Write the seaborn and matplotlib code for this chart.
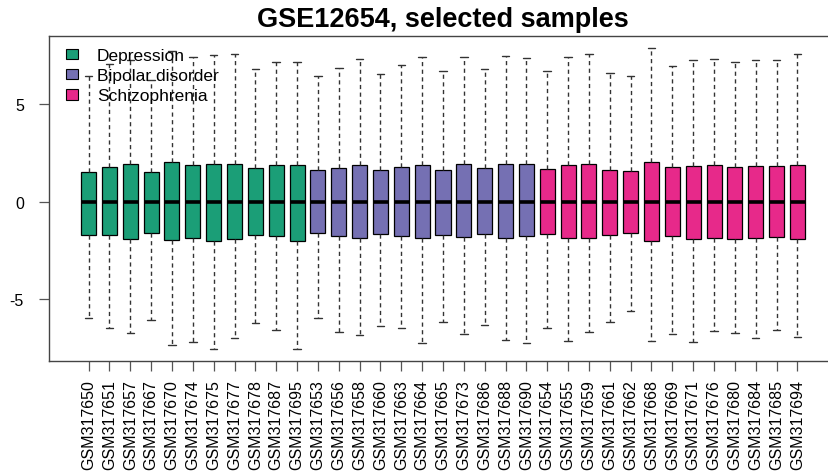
import numpy as np
import pandas as pd
import matplotlib
matplotlib.use("Agg")
import matplotlib.pyplot as plt
from matplotlib.patches import Patch
import seaborn as sns

# sample ids, in the order they are plotted
samples = ["GSM317650", "GSM317651", "GSM317657", "GSM317667", "GSM317670", "GSM317674",
           "GSM317675", "GSM317677", "GSM317678", "GSM317687", "GSM317695",
           "GSM317653", "GSM317656", "GSM317658", "GSM317660", "GSM317663", "GSM317664",
           "GSM317665", "GSM317673", "GSM317686", "GSM317688", "GSM317690",
           "GSM317654", "GSM317655", "GSM317659", "GSM317661", "GSM317662", "GSM317668",
           "GSM317669", "GSM317671", "GSM317676", "GSM317680", "GSM317684", "GSM317685",
           "GSM317694"]
groups = (["Depression"] * 11 + ["Bipolar disorder"] * 11 + ["Schizophrenia"] * 13)
group_names = ["Depression", "Bipolar disorder", "Schizophrenia"]
group_colors = ["#1B9E77", "#7570B3", "#E7298A"]

# five number summary per sample
lower = [-5.96, -6.50, -6.72, -6.07, -7.36, -7.18, -7.56, -6.98, -6.22, -6.60, -7.56,
         -5.95, -6.67, -6.82, -6.39, -6.48, -7.27, -6.19, -6.81, -6.31, -7.08, -7.24,
         -6.46, -7.15, -6.70, -6.15, -5.60, -7.15, -6.79, -7.22, -6.62, -6.72, -7.01, -6.57, -6.93]
q1 = [-1.72, -1.72, -1.91, -1.58, -1.98, -1.86, -2.03, -1.91, -1.72, -1.77, -2.03,
      -1.62, -1.77, -1.84, -1.64, -1.76, -1.86, -1.72, -1.79, -1.67, -1.88, -1.77,
      -1.64, -1.84, -1.86, -1.70, -1.60, -2.00, -1.76, -1.89, -1.86, -1.89, -1.86, -1.79, -1.93]
median = [0.0, 0.0, 0.0, 0.0, 0.0, 0.0, 0.0, 0.0, 0.0, 0.0, 0.0,
          0.0, 0.0, 0.0, 0.0, 0.0, 0.0, 0.0, 0.0, 0.0, 0.0, 0.0,
          0.0, 0.0, 0.0, 0.0, 0.0, 0.0, 0.0, 0.0, 0.0, 0.0, 0.0, 0.0, 0.0]
q3 = [1.55, 1.79, 1.94, 1.55, 2.04, 1.91, 1.92, 1.92, 1.72, 1.87, 1.89,
      1.65, 1.72, 1.87, 1.65, 1.79, 1.89, 1.65, 1.92, 1.72, 1.92, 1.92,
      1.70, 1.87, 1.92, 1.63, 1.60, 2.06, 1.79, 1.85, 1.87, 1.79, 1.85, 1.85, 1.91]
upper = [6.44, 7.09, 7.27, 6.27, 7.75, 7.43, 7.56, 7.61, 6.84, 7.18, 7.16,
         6.48, 6.90, 7.33, 6.56, 7.04, 7.43, 6.70, 7.46, 6.82, 7.51, 7.39,
         6.73, 7.42, 7.59, 6.63, 6.44, 7.90, 6.96, 7.30, 7.35, 7.18, 7.30, 7.30, 7.59]

# five points per sample -> quartiles land exactly on q1/median/q3
df = pd.DataFrame({"sample": samples, "group": groups, "lower": lower, "q1": q1,
                   "median": median, "q3": q3, "upper": upper})
df_long = df.melt(id_vars=["sample", "group"], value_name="value")

sns.set_style("ticks")
plt.rcParams["font.family"] = ["Liberation Sans", "DejaVu Sans"]
plt.rcParams["text.color"] = "black"
plt.rcParams["xtick.labelcolor"] = "black"
plt.rcParams["ytick.labelcolor"] = "black"

fig = plt.figure(figsize=(8.29, 4.77), dpi=100)
ax = fig.add_axes([49 / 829, 115 / 477, 788 / 829, 325 / 477])

sns.boxplot(data=df_long, x="sample", y="value", hue="group", order=samples,
            hue_order=group_names, palette=group_colors, dodge=False, width=0.72,
            whis=np.inf, saturation=1, linecolor="black", linewidth=0.9,
            medianprops=dict(color="black", linewidth=2.6),
            whiskerprops=dict(color="#333333", linestyle=(0, (3, 2.5)), linewidth=1),
            capprops=dict(color="#333333", linewidth=1),
            legend=False, ax=ax)

# R style limits: 4% padding round the data
ymin, ymax = min(lower), max(upper)
pad = (ymax - ymin) * 0.04
ax.set_ylim(ymin - pad, ymax + pad)
ax.set_xlim(-1.9, len(samples) + 0.9)
ax.set_yticks([-5, 0, 5])
ax.set_yticklabels(["-5", "0", "5"])
ax.set_xlabel("")
ax.set_ylabel("")
ax.tick_params(axis="x", rotation=90, labelsize=11.5, length=7, width=0.9, pad=6, color="#555555")
ax.tick_params(axis="y", labelsize=11.5, length=7, width=0.9, pad=11, color="#555555")
for s in ax.spines.values():
    s.set_visible(True)
    s.set_color("#444444")
    s.set_linewidth(1)

ax.set_title("GSE12654, selected samples", fontsize=19.5, fontweight="bold", pad=7, color="black")

handles = [Patch(facecolor=c, edgecolor="black", linewidth=0.8) for c in group_colors]
ax.legend(handles, group_names, loc="upper left", bbox_to_anchor=(0.022, 0.963),
          frameon=False, fontsize=12.5, handlelength=0.65, handleheight=0.55,
          handletextpad=1.1, labelspacing=0.3, borderpad=0, borderaxespad=0)

fig.savefig("out.png", dpi=100)
